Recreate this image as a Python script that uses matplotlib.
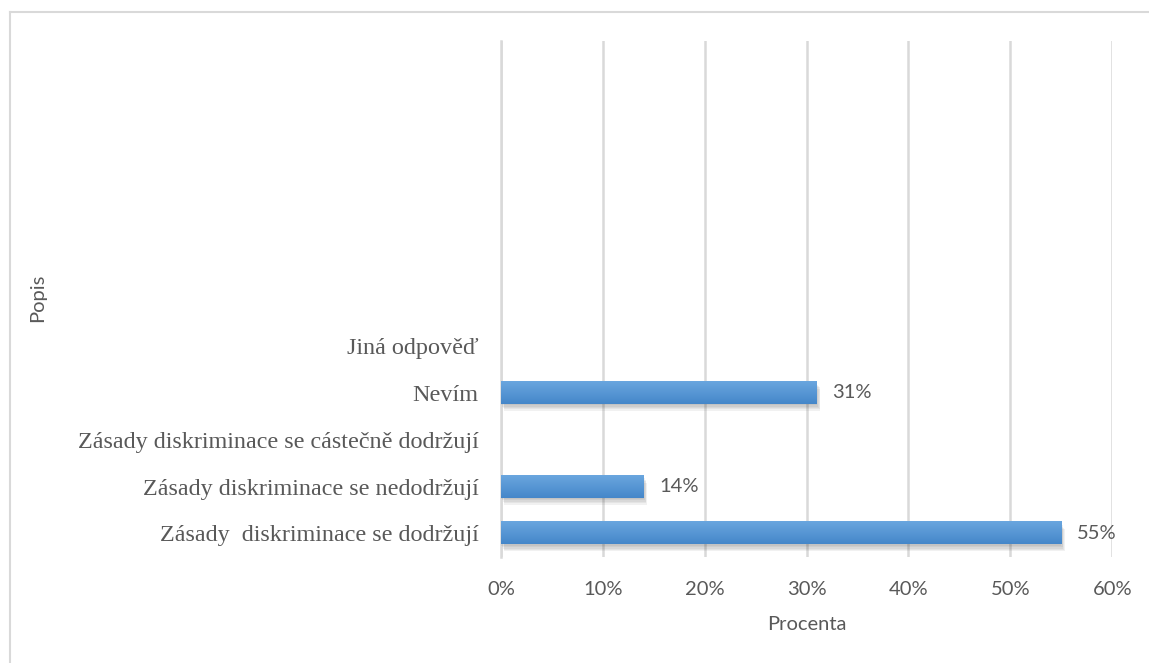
import numpy as np
import matplotlib
matplotlib.use("Agg")
import matplotlib.pyplot as plt
from matplotlib import patheffects as pe
from matplotlib.colors import LinearSegmentedColormap
from matplotlib.ticker import FuncFormatter

# Survey answers (bottom to top) and their shares in percent
categories = [
    "Zásady  diskriminace se dodržují",
    "Zásady diskriminace se nedodržují",
    "Zásady diskriminace se cástečně dodržují",
    "Nevím",
    "Jiná odpověď",
]
values = [55, 14, 0, 31, 0]
value_labels = ["55%", "14%", "", "31%", ""]
x_ticks = [0, 10, 20, 30, 40, 50, 60]

TEXT = "#595959"
GRID = "#d9d9d9"
SANS = ["Lato", "DejaVu Sans"]
SERIF = ["Liberation Serif", "DejaVu Serif"]
SANS_SIZE = 14.5

fig = plt.figure(figsize=(11.49, 6.63), dpi=100)
ax = fig.add_axes([0.436, 0.160, 0.532, 0.778])

# outer chart frame (left and top edges)
fig.add_artist(plt.Line2D([10 / 1149, 10 / 1149], [0, 1 - 12 / 663],
                          transform=fig.transFigure, color=GRID, lw=1.5))
fig.add_artist(plt.Line2D([10 / 1149, 1], [1 - 12 / 663, 1 - 12 / 663],
                          transform=fig.transFigure, color=GRID, lw=1.5))

# soft, blurred-looking drop shadow built from several faint layers
shadow = [pe.SimplePatchShadow(offset=(dx, dy), alpha=0.07,
                               shadow_rgbFace="#404040")
          for dx, dy in [(0, -1), (1, -2), (1.5, -3), (2, -4), (2.5, -5)]]

pos = np.arange(len(categories))
bar_h = 0.47
bars = ax.barh(pos, values, height=bar_h, color="#5896d6", zorder=3,
               path_effects=shadow + [pe.Normal()])

# vertical gradient on each bar
grad = LinearSegmentedColormap.from_list("g", ["#4587c9", "#6aa6df"])
g = np.linspace(0, 1, 64).reshape(-1, 1)
for b, v in zip(bars, values):
    if v <= 0:
        continue
    x0, y0 = b.get_x(), b.get_y()
    ax.imshow(g, cmap=grad, origin="lower", aspect="auto",
              extent=[x0, x0 + b.get_width(), y0, y0 + b.get_height()],
              zorder=4)

for p, v, lab in zip(pos, values, value_labels):
    if lab:
        ax.text(v + 1.5, p, lab, va="center", ha="left", color=TEXT,
                fontsize=SANS_SIZE, family=SANS)

ax.set_xlim(0, 60)
ax.set_ylim(-0.5, 10.5)
ax.set_xticks(x_ticks)
ax.xaxis.set_major_formatter(FuncFormatter(lambda x, _: f"{x:.0f}%"))
ax.set_yticks(pos)
ax.set_yticklabels(categories, family=SERIF, fontsize=17.4, color=TEXT)
for t in ax.get_xticklabels():
    t.set_family(SANS)
    t.set_fontsize(SANS_SIZE)
    t.set_color(TEXT)

ax.tick_params(axis="x", length=0, pad=17)
ax.tick_params(axis="y", length=0, pad=16)
ax.grid(axis="x", color=GRID, lw=1.8, zorder=0)
ax.set_axisbelow(True)
for s in ["top", "right", "bottom"]:
    ax.spines[s].set_visible(False)
ax.spines["left"].set_color(GRID)
ax.spines["left"].set_linewidth(1.8)

ax.set_xlabel("Procenta", family=SANS, fontsize=SANS_SIZE, color=TEXT,
              labelpad=13)
fig.text(38 / 1149, 1 - 298 / 663, "Popis", rotation=90, va="center",
         ha="center", family=SANS, fontsize=SANS_SIZE, color=TEXT)

fig.savefig("out.png", dpi=100, facecolor="white")
